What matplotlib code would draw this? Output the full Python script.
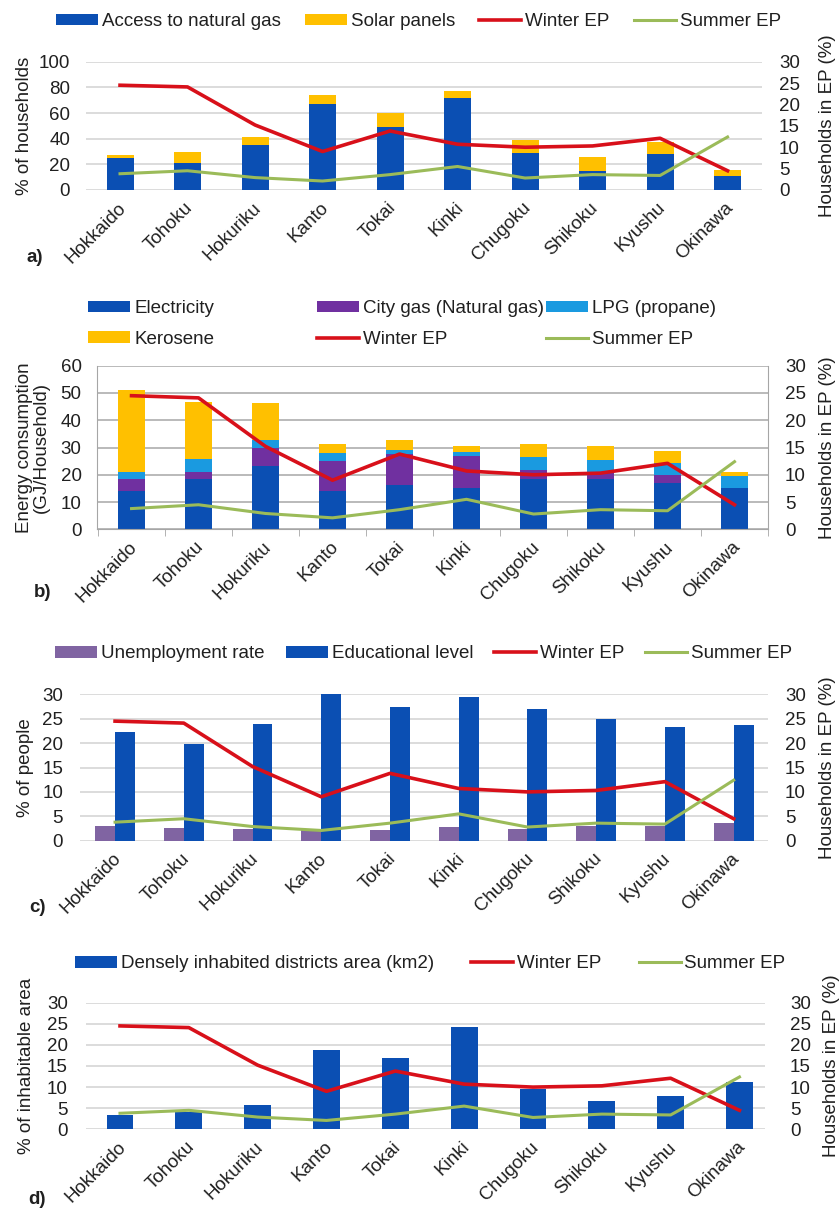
import numpy as np
import matplotlib.pyplot as plt
from matplotlib.transforms import ScaledTranslation

plt.rcParams['font.family'] = ['Liberation Sans', 'DejaVu Sans']
plt.rcParams['font.size'] = 13.5
plt.rcParams['text.color'] = '#202020'
plt.rcParams['xtick.color'] = '#202020'
plt.rcParams['ytick.color'] = '#202020'

# --- datos por region ---------------------------------------------------------
regions = ['Hokkaido', 'Tohoku', 'Hokuriku', 'Kanto', 'Tokai',
           'Kinki', 'Chugoku', 'Shikoku', 'Kyushu', 'Okinawa']

# hogares en pobreza energetica (%), eje derecho en los 4 paneles
winter_ep = [24.5, 24.1, 15.2, 9.0, 13.8, 10.7, 10.0, 10.3, 12.1, 4.5]
summer_ep = [3.8, 4.5, 2.9, 2.1, 3.6, 5.5, 2.8, 3.6, 3.4, 12.4]

# a) % de hogares
natural_gas = [24.7, 21.3, 35.1, 67.0, 48.8, 71.4, 28.5, 15.0, 28.0, 10.9]
solar_panels = [2.6, 8.5, 5.9, 7.0, 10.9, 6.0, 10.5, 11.0, 9.6, 4.5]

# b) consumo (GJ/hogar)
electricity = [14.0, 18.5, 23.2, 14.0, 16.3, 15.1, 18.6, 18.4, 17.1, 15.0]
city_gas = [4.4, 2.5, 6.8, 11.0, 11.2, 11.6, 3.2, 2.6, 2.9, 0.2]
lpg = [2.6, 4.7, 2.7, 2.9, 1.5, 1.7, 4.6, 4.4, 4.3, 4.4]
kerosene = [30.1, 21.1, 13.5, 3.4, 3.8, 2.1, 4.9, 5.3, 4.3, 1.4]

# c) % de personas
unemployment = [3.0, 2.6, 2.3, 2.2, 2.2, 2.9, 2.3, 3.0, 3.0, 3.6]
education = [22.2, 19.9, 23.9, 30.0, 27.4, 29.5, 26.9, 25.0, 23.4, 23.7]

# d) % de superficie habitable
dense_area = [3.5, 4.2, 5.8, 18.8, 17.0, 24.3, 9.5, 6.7, 7.9, 11.3]

BLUE = '#0b4fb3'
GOLD = '#ffc000'
RED = '#d8101a'
GREEN = '#9bbb59'
PURPLE = '#7030a0'
LPG_BLUE = '#1a9ae0'
UNEMP = '#8064a2'

W, H = 840, 1211
FS_PX = 13.5 * 100 / 72

fig = plt.figure(figsize=(W / 100, H / 100), dpi=100)
x = np.arange(len(regions))


def add_panel(left, top, right, bottom, xlim, ymax, ystep, grid_color, left_pad, right_pad):
    ax = fig.add_axes([left / W, 1 - bottom / H, (right - left) / W, (bottom - top) / H])
    ax.set_xlim(*xlim)
    ax.set_ylim(0, ymax)
    ax.set_yticks(np.arange(0, ymax + 1, ystep))
    ax.yaxis.grid(True, color=grid_color, lw=1.3)
    ax.set_axisbelow(True)

    ax2 = ax.twinx()
    ax2.set_ylim(0, 30)
    ax2.set_yticks(np.arange(0, 31, 5))

    for a in (ax, ax2):
        for s in a.spines.values():
            s.set_visible(False)
    ax.tick_params(axis='y', length=0, pad=left_pad * 0.72)
    ax2.tick_params(axis='y', length=0, pad=right_pad * 0.72)

    ax.set_xticks(x)
    ax.set_xticklabels(regions, rotation=45, ha='right', va='center', rotation_mode='anchor')
    ax.tick_params(axis='x', length=0, pad=11)
    offset = ScaledTranslation(3 / 100, 0, fig.dpi_scale_trans)
    for lab in ax.get_xticklabels():
        lab.set_transform(lab.get_transform() + offset)
    return ax, ax2


def ep_lines(ax2):
    l1, = ax2.plot(x, winter_ep, color=RED, lw=2.6, label='Winter EP')
    l2, = ax2.plot(x, summer_ep, color=GREEN, lw=2.2, label='Summer EP')
    return [l1, l2]


def legend_at(handles, x_px, y_px, ncol=1, colspace_px=20):
    fig.legend(handles, [h.get_label() for h in handles], loc='center left',
               bbox_to_anchor=(x_px / W, 1 - y_px / H), ncol=ncol, frameon=False,
               borderpad=0, borderaxespad=0, handlelength=42 / FS_PX,
               handleheight=0.55, handletextpad=4 / FS_PX,
               columnspacing=colspace_px / FS_PX, labelspacing=0.72)


def side_labels(left_text, left_x, right_x, top, bottom, tag, tag_x, tag_y):
    yc = 1 - (top + bottom) / 2 / H
    fig.text(left_x / W, yc, left_text, rotation=90, ha='center', va='center',
             linespacing=1.05)
    fig.text(right_x / W, yc, 'Households in EP (%)', rotation=90, ha='center', va='center')
    fig.text(tag_x / W, 1 - tag_y / H, tag, fontweight='bold', ha='center', va='center')


# --- a) gas natural y paneles solares ----------------------------------------
ax, ax2 = add_panel(86, 61.7, 762, 190, (-0.504, 9.51), 100, 20, '#d9d9d9', 16, 17)
b1 = ax.bar(x, natural_gas, 0.4, color=BLUE, label='Access to natural gas')
b2 = ax.bar(x, solar_panels, 0.4, bottom=natural_gas, color=GOLD, label='Solar panels')
lines = ep_lines(ax2)
legend_at([b1, b2] + lines, 56, 21.7, ncol=4, colspace_px=24)
side_labels('% of households', 25, 827, 61.7, 190, 'a)', 35, 257)

# --- b) consumo de energia por fuente ----------------------------------------
ax, ax2 = add_panel(96.7, 365.7, 768, 529.3, (-0.52, 9.48), 60, 10, '#b4b4b4', 15, 17)
bottom = np.zeros(len(regions))
bars = []
for vals, col, lab in [(electricity, BLUE, 'Electricity'),
                       (city_gas, PURPLE, 'City gas (Natural gas)'),
                       (lpg, LPG_BLUE, 'LPG (propane)'),
                       (kerosene, GOLD, 'Kerosene')]:
    bars.append(ax.bar(x, vals, 0.4, bottom=bottom, color=col, label=lab))
    bottom += np.array(vals)
lines = ep_lines(ax2)
for side in ('left', 'bottom'):
    ax.spines[side].set_visible(True)
    ax.spines[side].set_color('#a6a6a6')
ax2.spines['right'].set_visible(True)
ax2.spines['right'].set_color('#a6a6a6')
ax.set_xticks(np.arange(-0.5, 10), minor=True)
ax.tick_params(axis='x', which='minor', length=5, color='#a6a6a6', direction='out')
legend_at([bars[0], bars[3]], 88, 324)
legend_at([bars[1], lines[0]], 317, 324)
legend_at([bars[2], lines[1]], 546, 324)
side_labels('Energy consumption\n(GJ/Household)', 33, 828, 365.7, 529.3, 'b)', 43, 592)

# --- c) desempleo y nivel educativo ------------------------------------------
ax, ax2 = add_panel(80, 694.3, 768, 840.7, (-0.51, 9.5), 30, 5, '#d9d9d9', 17, 17)
b1 = ax.bar(x - 0.145, unemployment, 0.29, color=UNEMP, label='Unemployment rate')
b2 = ax.bar(x + 0.145, education, 0.29, color=BLUE, label='Educational level')
lines = ep_lines(ax2)
legend_at([b1, b2] + lines, 55, 654, ncol=4, colspace_px=21)
side_labels('% of people', 25, 828, 694.3, 840.7, 'c)', 37, 908)

# --- d) zonas densamente habitadas -------------------------------------------
ax, ax2 = add_panel(86, 1002.7, 765, 1129.3, (-0.494, 9.371), 30, 5, '#d9d9d9', 18, 25)
b1 = ax.bar(x, dense_area, 0.39, color=BLUE, label='Densely inhabited districts area (km2)')
lines = ep_lines(ax2)
legend_at([b1] + lines, 75, 964, ncol=3, colspace_px=37)
side_labels('% of inhabitable area', 27, 832, 1002.7, 1129.3, 'd)', 37, 1200)

fig.savefig('out.png', dpi=100)
